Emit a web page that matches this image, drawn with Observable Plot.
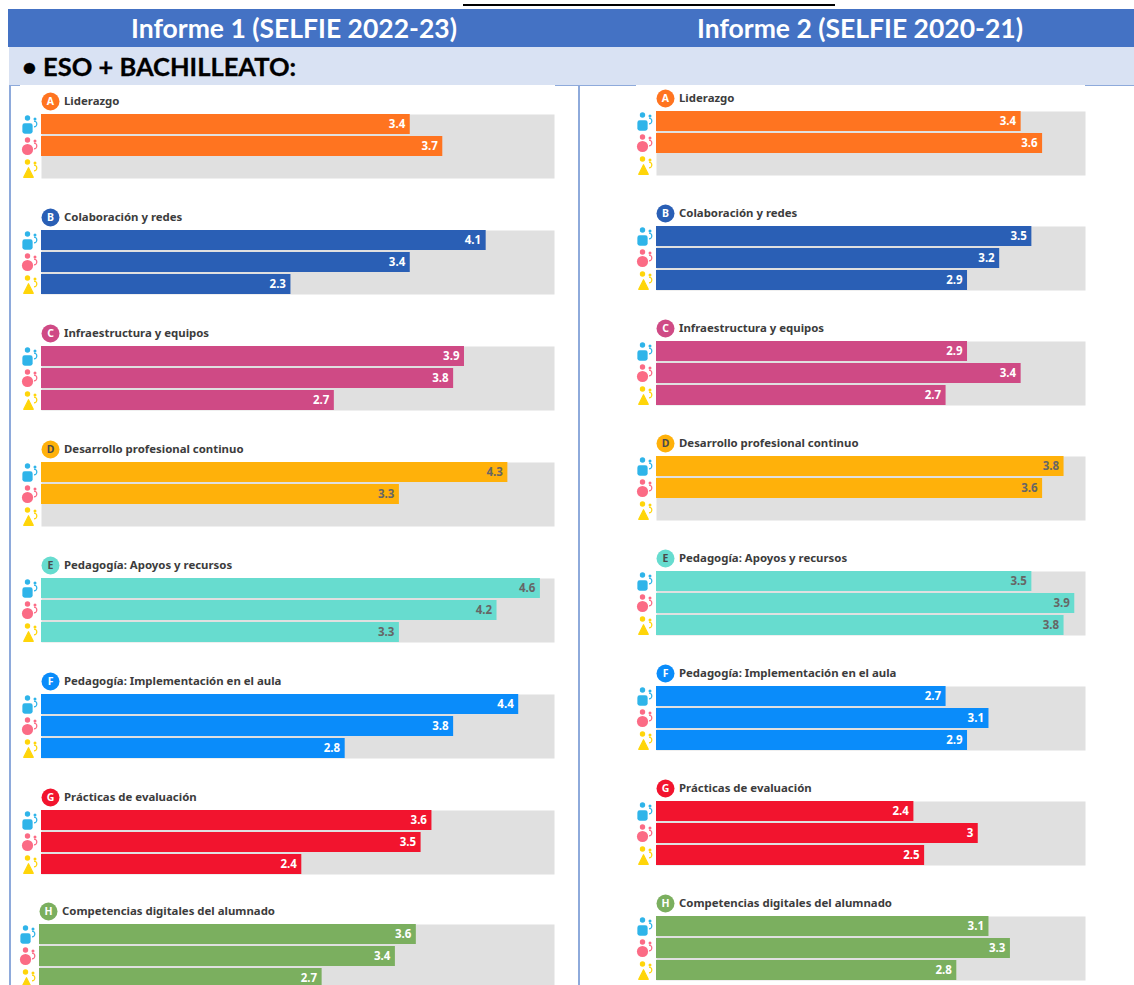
<!DOCTYPE html>
<html lang="es">
<head>
<meta charset="utf-8">
<title>Informes SELFIE</title>
<script src="https://cdn.jsdelivr.net/npm/d3@7"></script>
<script src="https://cdn.jsdelivr.net/npm/@observablehq/plot@0.6"></script>
<style>
html,body{margin:0;padding:0;background:#fff}
#page{position:relative;width:1134px;height:985px;overflow:hidden;background:#fff}
#page>div{position:absolute}
.band{font-family:Lato,sans-serif;font-weight:700;white-space:nowrap}
.head{color:#fff;font-size:26.5px;top:8px;height:40px;line-height:40px;text-align:center}
#page svg{position:absolute;background:transparent}
</style>
</head>
<body>
<div id="page">
  <div style="left:463px;top:4px;width:372px;height:2px;background:#000"></div>
  <div style="left:8px;top:9px;width:1126px;height:38px;background:#4472c4"></div>
  <div class="band head" style="left:8px;width:572px">Informe 1 (SELFIE 2022-23)</div>
  <div class="band head" style="left:574px;width:572px">Informe 2 (SELFIE 2020-21)</div>
  <div style="left:9px;top:47px;width:1125px;height:38px;background:#d9e2f3"></div>
  <div class="band" style="left:22px;top:47px;height:38px;line-height:38px;font-size:25.5px;color:#000;-webkit-text-stroke:.3px #000">• ESO + BACHILLEATO:</div>
  <div style="left:9px;top:85px;width:1125px;height:1px;background:#8eaadb"></div>
  <div style="left:9px;top:85px;width:2px;height:900px;background:#8eaadb"></div>
  <div style="left:578px;top:85px;width:2px;height:900px;background:#8eaadb"></div>
  <div style="left:20px;top:85px;width:535px;height:2px;background:#fff"></div>
  <div style="left:636px;top:85px;width:449px;height:2px;background:#fff"></div>
</div>
<script>
const letters = ["A","B","C","D","E","F","G","H"];
const names = ["Liderazgo","Colaboración y redes","Infraestructura y equipos","Desarrollo profesional continuo","Pedagogía: Apoyos y recursos","Pedagogía: Implementación en el aula","Prácticas de evaluación","Competencias digitales del alumnado"];
const colors = ["#ff7420","#2a5fb5","#cf4a85","#ffb10a","#67dccf","#0a8cfa","#f2142e","#7baf5f"];
const roles = ["Directivos","Profesorado","Alumnado"];
const leftDirectivos   = [3.4,4.1,3.9,4.3,4.6,4.4,3.6,3.6];
const leftProfesorado  = [3.7,3.4,3.8,3.3,4.2,3.8,3.5,3.4];
const leftAlumnado     = [null,2.3,2.7,null,3.3,2.8,2.4,2.7];
const rightDirectivos  = [3.4,3.5,2.9,3.8,3.5,2.7,2.4,3.1];
const rightProfesorado = [3.6,3.2,3.4,3.6,3.9,3.1,3.0,3.3];
const rightAlumnado    = [null,2.9,2.7,null,3.8,2.9,2.5,2.8];

const darkText = new Set(["D","E"]);
const cats = letters.map((l,i)=>({letter:l,name:names[i],color:colors[i],txt:darkText.has(l)?"#4a4a4a":"#fff"}));
function rows(a,b,c){
  return letters.flatMap((l,i)=>[a,b,c].map((s,j)=>({letter:l,role:roles[j],value:s[i],color:colors[i],txt:darkText.has(l)?"#666":"#fff"}))).filter(d=>d.value!=null);
}
const roundedSquare={draw(c,s){const r=Math.sqrt(s)/2,k=r*.45;c.moveTo(-r+k,-r);c.lineTo(r-k,-r);c.arcTo(r,-r,r,-r+k,k);c.lineTo(r,r-k);c.arcTo(r,r,r-k,r,k);c.lineTo(-r+k,r);c.arcTo(-r,r,-r,r-k,k);c.lineTo(-r,-r+k);c.arcTo(-r,-r,-r+k,-r,k);c.closePath();}};
const roundTriangle={draw(c,s){const r=Math.sqrt(s)/2;c.moveTo(0,-r);c.lineTo(r,r);c.lineTo(-r,r);c.closePath();}};
const hook={draw(c,s){const r=Math.sqrt(s)/2;c.moveTo(0,-r);c.arc(0,0,r,-Math.PI/2,Math.PI/2);}};
const iconSpec=[
  {role:"Directivos",color:"#2fb4e9",body:roundedSquare,bodyR:5.8,bx:-14,by:4,bs:0},
  {role:"Profesorado",color:"#fb6b85",body:"circle",bodyR:5.6,bx:-14,by:3,bs:0},
  {role:"Alumnado",color:"#ffd50a",body:roundTriangle,bodyR:5.4,bx:-13,by:4,bs:1.2}
];
function icons(){
  return iconSpec.flatMap(s=>{
    const d=letters.map(l=>({letter:l,role:s.role}));
    const o={fy:"letter",y:"role",x:()=>0,fill:s.color,stroke:"none"};
    return [
      Plot.dot(d,{...o,symbol:s.body,r:s.bodyR,dx:s.bx,dy:s.by,stroke:s.color,strokeWidth:s.bs,strokeLinejoin:"round"}),
      Plot.dot(d,{...o,r:2.7,dx:-14,dy:-6.5}),
      Plot.dot(d,{...o,r:1.5,dx:-6.5,dy:-5.5}),
      Plot.dot(d,{...o,fill:"none",stroke:s.color,strokeWidth:1.2,symbol:hook,r:3.2,dx:-7.5,dy:-0.5})
    ];
  });
}
function panel({data,domain,cat,width,height,left,top,marginLeft,marginRight,marginTop,fyPad,labelDy=-13}){
  const plot=Plot.plot({
    width,height,marginLeft,marginRight,marginTop,marginBottom:0,
    style:{fontFamily:"'Noto Sans',sans-serif",background:"transparent",overflow:"visible"},
    x:{domain:[0,domain],axis:null},
    y:{domain:roles,paddingInner:2/22,paddingOuter:0,round:false,axis:null},
    fy:{domain:cat,paddingInner:fyPad,paddingOuter:0,round:false,axis:null},
    color:{type:"identity"},
    marks:[
      Plot.frame({fill:"#e0e0e0",stroke:null}),
      ...icons(),
      Plot.barX(data,{fy:"letter",y:"role",x:"value",fill:"color"}),
      Plot.text(data,{fy:"letter",y:"role",x:"value",text:d=>String(d.value),fill:"txt",textAnchor:"end",dx:-5,fontSize:11.5,fontWeight:700}),
      Plot.dot(cats,{fy:"letter",x:()=>0,frameAnchor:"top",fill:"color",r:9,dx:9,dy:labelDy}),
      Plot.text(cats,{fy:"letter",x:()=>0,frameAnchor:"top",lineAnchor:"middle",text:"letter",fill:"txt",fontSize:10.5,fontWeight:700,dx:9,dy:labelDy}),
      Plot.text(cats,{fy:"letter",x:()=>0,frameAnchor:"top",lineAnchor:"middle",text:"name",fill:"#3c3c3c",textAnchor:"start",fontSize:11.4,fontWeight:700,dx:22.5,dy:labelDy})
    ]
  });
  plot.style.left=left+"px";plot.style.top=top+"px";
  document.getElementById("page").appendChild(plot);
}
const L=rows(leftDirectivos,leftProfesorado,leftAlumnado);
const R=rows(rightDirectivos,rightProfesorado,rightAlumnado);
const aToG=letters.slice(0,7);
panel({data:L.filter(d=>d.letter!=="H"),domain:4.73,cat:aToG,width:570,height:789,left:0,top:85,marginLeft:41,marginRight:16,marginTop:29,fyPad:52/116});
panel({data:L.filter(d=>d.letter==="H"),domain:4.92,cat:["H"],width:570,height:98,left:0,top:890,marginLeft:39,marginRight:16,marginTop:34,fyPad:0,labelDy:-13});
panel({data:R,domain:4.0,cat:letters,width:564,height:895,left:570,top:85,marginLeft:86,marginRight:49,marginTop:26,fyPad:51/115});
</script>
</body>
</html>
